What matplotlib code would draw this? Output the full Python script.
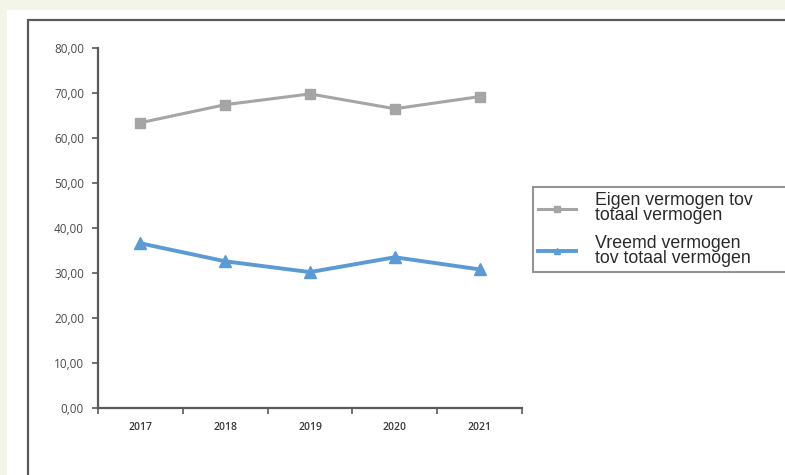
import matplotlib.pyplot as plt
from matplotlib.patches import Rectangle
from matplotlib.ticker import FuncFormatter, MultipleLocator

# waarden
years = ['2017', '2018', '2019', '2020', '2021']
eigen = [63.4, 67.4, 69.8, 66.5, 69.2]
vreemd = [36.6, 32.6, 30.2, 33.5, 30.8]
labels = ['Eigen vermogen tov\ntotaal vermogen', 'Vreemd vermogen\ntov totaal vermogen']

fig = plt.figure(figsize=(7.85, 4.75), dpi=100)
fig.patch.set_facecolor('#f3f5e8')
W, H = 785, 475

# witte achtergrond en kader
fig.patches.append(Rectangle((7 / W, 0), 1, 1 - 10 / H, transform=fig.transFigure,
                             facecolor='white', edgecolor='none', zorder=-2))
fig.patches.append(Rectangle((28 / W, -0.1), 1, 1.1 - 20 / H, transform=fig.transFigure,
                             facecolor='none', edgecolor='#5a5a5a', lw=1.6, zorder=-1))

ax = fig.add_axes([98 / W, 1 - 408 / H, (522 - 98) / W, (408 - 48) / H])
ax.set_facecolor('none')
ax.set_zorder(2)

x = range(len(years))
ax.plot(x, eigen, color='#a5a5a5', lw=2.2, marker='s', ms=6.5, label=labels[0])
ax.plot(x, vreemd, color='#5b9bd5', lw=2.8, marker='^', ms=8, label=labels[1])

ax.set_xlim(-0.5, len(years) - 0.5)
ax.set_ylim(0, 80)
ax.yaxis.set_major_locator(MultipleLocator(10))
ax.yaxis.set_major_formatter(FuncFormatter(lambda v, p: f'{v:.2f}'.replace('.', ',')))

ax.set_xticks(list(x))
ax.set_xticklabels(years)
ax.set_xticks([i - 0.5 for i in range(len(years) + 1)], minor=True)
ax.tick_params(axis='x', which='major', length=0, pad=10)
ax.tick_params(axis='x', which='minor', length=4, width=1.2, color='#5a5a5a', direction='out')
ax.tick_params(axis='y', length=4, width=1.2, color='#5a5a5a', pad=6)
for lab in ax.get_yticklabels():
    lab.set_fontfamily('Open Sans')
    lab.set_fontsize(8.5)
    lab.set_color('#4a4a4a')
for lab in ax.get_xticklabels():
    lab.set_fontfamily('Open Sans')
    lab.set_fontsize(7.5)
    lab.set_fontweight('semibold')
    lab.set_color('#3a3a3a')

for s in ['top', 'right']:
    ax.spines[s].set_visible(False)
for s in ['left', 'bottom']:
    ax.spines[s].set_color('#5a5a5a')
    ax.spines[s].set_linewidth(1.6)

leg = fig.legend(loc='upper left', bbox_to_anchor=(533 / W, 1 - 187 / H, 300 / W, 0),
                 mode='expand', frameon=True, fancybox=False, edgecolor='#7a7a7a',
                 prop={'family': 'Liberation Sans', 'size': 12.8},
                 handlelength=2.1, handletextpad=1.1, borderpad=0.3, labelspacing=0.6,
                 markerscale=0.6, borderaxespad=0)
leg.set_zorder(3)
leg.get_frame().set_linewidth(1.5)
for t in leg.get_texts():
    t.set_linespacing(0.85)
    t.set_color('#2a2a2a')

fig.savefig('out.png', dpi=100, facecolor=fig.get_facecolor())
